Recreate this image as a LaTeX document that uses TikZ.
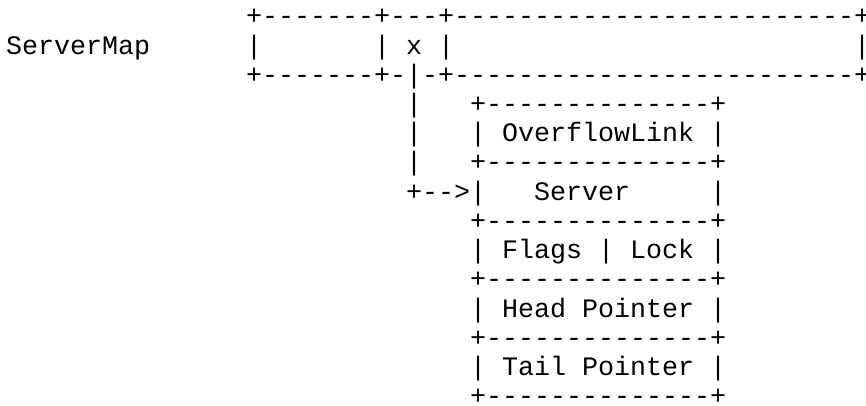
\documentclass[tikz,border=0pt]{standalone}
\usepackage{fontspec}
\setmonofont{Liberation Mono}
\usepackage{tikz}

\begin{document}
\begin{tikzpicture}[
  x=16pt, y=-29.2pt,
  ascii/.style={anchor=base west, inner sep=0pt, outer sep=0pt, font=\ttfamily\fontsize{26.67pt}{29.2pt}\selectfont}
]
\path[fill=white, use as bounding box] (-0.375,-0.856) rectangle (53.75,13.014);

% server map row
\node[ascii] (mapName) at (0,1) {ServerMap};
\node[ascii] (mapTop) at (15,0) {+-------+---+-------------------------+};
\foreach \c in {15,23,27,53}
  \node[ascii] (mapBar\c) at (\c,1) {|};
\node[ascii] (slotX) at (25,1) {x};
\node[ascii] (mapBottom) at (15,2) {+-------+-|-+-------------------------+};

% link down to the server record
\foreach \r in {3,4,5}
  \node[ascii] (linkBar\r) at (25,\r) {|};
\node[ascii] (linkArrow) at (25,6) {+-->|};

% server record
\foreach \r in {3,5,7,9,11,13}
  \node[ascii] (edge\r) at (29,\r) {+--------------+};
\node[ascii] (overflow) at (29,4) {| OverflowLink |};
\node[ascii] (server) at (33,6) {Server};
\node[ascii] (serverBar) at (44,6) {|};
\node[ascii] (flags) at (29,8) {| Flags | Lock |};
\node[ascii] (head) at (29,10) {| Head Pointer |};
\node[ascii] (tail) at (29,12) {| Tail Pointer |};
\end{tikzpicture}
\end{document}
